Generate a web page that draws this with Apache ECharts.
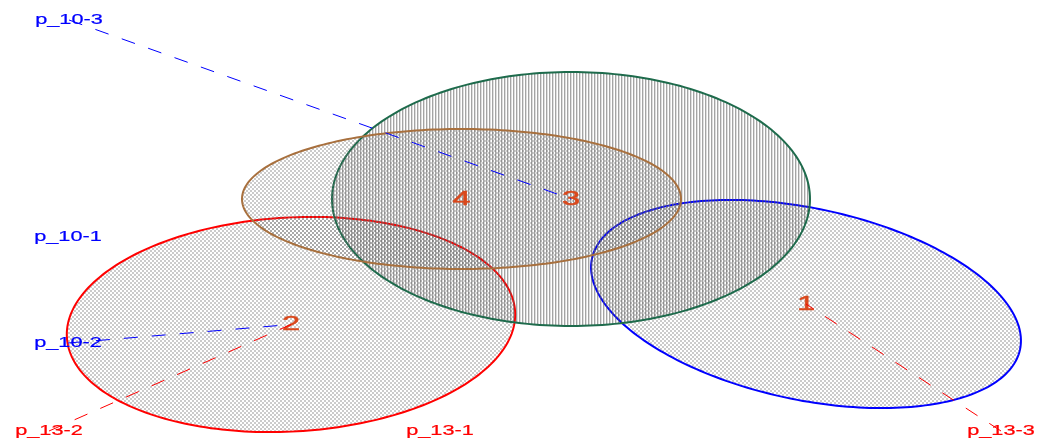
<!DOCTYPE html>
<html>
<head>
<meta charset="utf-8">
<style>
  html, body { margin: 0; padding: 0; background: #ffffff; }
  #chart { width: 1037px; height: 438px; }
</style>
<script src="https://cdn.jsdelivr.net/npm/echarts@6/dist/echarts.min.js"></script>
</head>
<body>
<div id="chart"></div>
<script>
// Group ellipses: centre, semi-axes and tilt (degrees, positive = right end lower)
const groupIds   = ['1', '2', '3', '4'];
const centerX    = [806, 291, 571, 461.5];
const centerY    = [304, 324.5, 199, 199];
const semiMajor  = [218.8, 224.5, 239, 219.5];
const semiMinor  = [95.7, 107, 127, 70];
const tiltDeg    = [12, -3.3, 0, 0];

// Sampling sites and the group each one is tied to
const siteNames  = ['p_10-1', 'p_10-2', 'p_10-3', 'p_13-1', 'p_13-2', 'p_13-3'];
const siteX      = [68, 68, 69, 440, 49, 1001];
const siteY      = [237, 343, 20, 431, 431, 431];
const siteGroup  = [null, '2', '3', null, '2', '1'];

// Styling
const outlineColors = ['#0000ff', '#ff0000', '#1e6b4c', '#a8703e'];
const hatchKinds    = ['check', 'check', 'stripe', 'check'];
const numberColor   = '#d9481c';
const siteColor = name => name.startsWith('p_10') ? '#0000ff' : '#ff0000';

function makeCheck() {
  const c = document.createElement('canvas');
  c.width = 4; c.height = 4;
  const g = c.getContext('2d');
  g.fillStyle = 'rgba(110,110,110,0.36)';
  g.fillRect(0, 0, 2, 2);
  g.fillRect(2, 2, 2, 2);
  return { image: c, repeat: 'repeat' };
}
function makeStripe() {
  const c = document.createElement('canvas');
  c.width = 3; c.height = 4;
  const g = c.getContext('2d');
  g.fillStyle = 'rgba(90,90,90,0.55)';
  g.fillRect(0, 0, 1, 4);
  g.fillStyle = 'rgba(90,90,90,0.2)';
  g.fillRect(1, 0, 1, 4);
  return { image: c, repeat: 'repeat' };
}
const patterns = { check: makeCheck(), stripe: makeStripe() };

const ellipseData = groupIds.map((id, i) =>
  [centerX[i], centerY[i], semiMajor[i], semiMinor[i], tiltDeg[i], i]);

const siteData = siteNames.map((n, i) => [siteX[i], siteY[i], i]);

const linkData = [];
siteNames.forEach((n, i) => {
  const g = siteGroup[i];
  if (g === null) return;
  const k = groupIds.indexOf(g);
  linkData.push([siteX[i], siteY[i], centerX[k], centerY[k], i]);
});

const numberData = groupIds.map((id, i) => [centerX[i], centerY[i], i]);

const chart = echarts.init(document.getElementById('chart'), null, { renderer: 'canvas' });

chart.setOption({
  animation: false,
  backgroundColor: '#ffffff',
  grid: { left: 0, right: 0, top: 0, bottom: 0 },
  xAxis: { type: 'value', min: 0, max: 1037, show: false },
  yAxis: { type: 'value', min: 0, max: 438, inverse: true, show: false },
  series: [
    {
      type: 'custom',
      name: 'groups',
      data: ellipseData,
      z: 1,
      silent: true,
      renderItem: function (params, api) {
        const cx = api.value(0), cy = api.value(1);
        const a = api.value(2), b = api.value(3);
        const th = api.value(4) * Math.PI / 180;
        const k = api.value(5);
        const pts = [];
        const n = 240;
        for (let j = 0; j < n; j++) {
          const t = 2 * Math.PI * j / n;
          const x = cx + a * Math.cos(t) * Math.cos(th) - b * Math.sin(t) * Math.sin(th);
          const y = cy + a * Math.cos(t) * Math.sin(th) + b * Math.sin(t) * Math.cos(th);
          pts.push(api.coord([x, y]));
        }
        return {
          type: 'polygon',
          shape: { points: pts },
          style: {
            fill: patterns[hatchKinds[k]],
            stroke: outlineColors[k],
            lineWidth: 2
          }
        };
      }
    },
    {
      type: 'custom',
      name: 'sites',
      data: siteData,
      z: 2,
      silent: true,
      renderItem: function (params, api) {
        const p = api.coord([api.value(0), api.value(1)]);
        const name = siteNames[api.value(2)];
        return {
          type: 'text',
          x: p[0], y: p[1],
          scaleX: 1.55,
          style: {
            x: 0, y: 0,
            text: name,
            fill: siteColor(name),
            stroke: siteColor(name),
            lineWidth: 0.2,
            font: '14px "Liberation Sans", Arial, sans-serif',
            align: 'center',
            verticalAlign: 'middle'
          }
        };
      }
    },
    {
      type: 'custom',
      name: 'numbers',
      data: numberData,
      z: 3,
      silent: true,
      renderItem: function (params, api) {
        const p = api.coord([api.value(0), api.value(1)]);
        return {
          type: 'text',
          x: p[0], y: p[1],
          scaleX: 1.55,
          style: {
            x: 0, y: 0,
            text: groupIds[api.value(2)],
            fill: numberColor,
            stroke: numberColor,
            lineWidth: 0.5,
            font: '21px "Liberation Sans", Arial, sans-serif',
            align: 'center',
            verticalAlign: 'middle'
          }
        };
      }
    },
    {
      type: 'custom',
      name: 'links',
      data: linkData,
      z: 4,
      silent: true,
      renderItem: function (params, api) {
        const p1 = api.coord([api.value(0), api.value(1)]);
        const p2 = api.coord([api.value(2), api.value(3)]);
        const name = siteNames[api.value(4)];
        return {
          type: 'line',
          shape: { x1: p1[0], y1: p1[1], x2: p2[0], y2: p2[1] },
          style: {
            stroke: siteColor(name),
            lineWidth: 1,
            lineDash: [14, 14]
          }
        };
      }
    }
  ]
});
</script>
</body>
</html>
